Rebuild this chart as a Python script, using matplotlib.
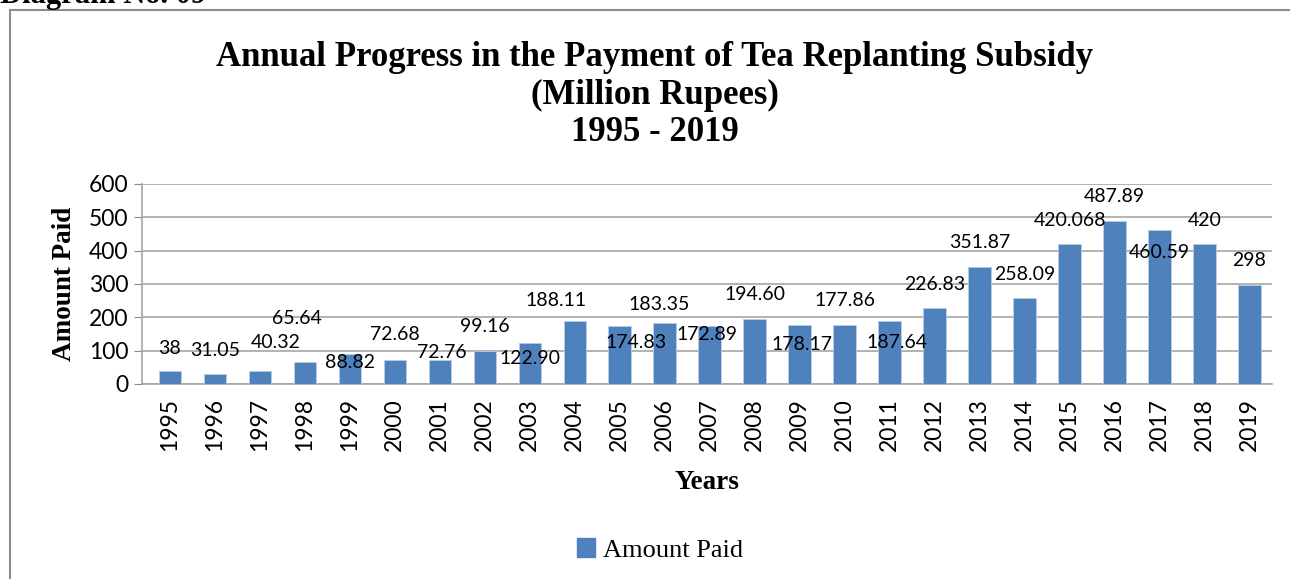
import matplotlib

matplotlib.use("Agg")
import matplotlib.pyplot as plt
from matplotlib.patches import Rectangle, Patch

# 年份與補助金額（百萬盧比）
YEARS = [str(y) for y in range(1995, 2020)]
AMOUNTS = [38, 31.05, 40.32, 65.64, 88.82, 72.68, 72.76, 99.16, 122.90, 188.11,
           174.83, 183.35, 172.89, 194.60, 178.17, 177.86, 187.64, 226.83, 351.87,
           258.09, 420.068, 487.89, 460.59, 420, 298]
LABELS = ["38", "31.05", "40.32", "65.64", "88.82", "72.68", "72.76", "99.16",
          "122.90", "188.11", "174.83", "183.35", "172.89", "194.60", "178.17",
          "177.86", "187.64", "226.83", "351.87", "258.09", "420.068", "487.89",
          "460.59", "420", "298"]
Y_TICKS = [0, 100, 200, 300, 400, 500, 600]

# 資料標籤的位置（原圖手動擺放）
LABEL_Y = [108, 102, 123, 198, 63, 147, 96, 171, 78, 252, 126, 237, 147, 270,
           117, 249, 126, 297, 423, 330, 492, 561, 393, 492, 369]
LABEL_DX = [0, 0, 0.36, -0.18, 0, 0, 0.05, 0, 0, -0.42, 0.36, -0.13, -0.07, 0,
            0.05, 0, 0.16, 0, 0, 0, 0, 0, 0, 0, 0]

BAR_COLOR = "#4F81BD"
SERIF = "Liberation Serif"
SANS = "Lato"

fig = plt.figure(figsize=(12.9, 5.79), dpi=100)
fig.patch.set_facecolor("white")

# 外框
fig.patches.append(Rectangle((10 / 1290, -0.05), 1.1, 1 - 10 / 579 + 0.05,
                             transform=fig.transFigure, fill=False,
                             edgecolor="#8C8C8C", linewidth=1.5))
fig.text(0.0, 1 - 3 / 579, "Diagram No. 09", fontsize=22, fontweight="bold",
         family=SERIF, va="baseline", ha="left")

ax = fig.add_axes([142 / 1290, 1 - 384 / 579, (1272 - 142) / 1290, 200 / 579])
x = list(range(len(YEARS)))
ax.bar(x, AMOUNTS, width=0.5, color=BAR_COLOR, edgecolor="#B9CDE5",
       linewidth=0.6, zorder=3)

for i, (lab, ly, dx) in enumerate(zip(LABELS, LABEL_Y, LABEL_DX)):
    ax.text(i + dx, ly, lab, ha="center", va="center", fontsize=14,
            family=SANS, color="black", zorder=4)

ax.set_ylim(0, 600)
ax.set_xlim(-0.62, len(YEARS) - 0.5)
ax.set_yticks(Y_TICKS)
ax.set_yticklabels([str(t) for t in Y_TICKS], fontsize=16.5, family=SANS)
ax.set_xticks(x)
ax.set_xticklabels(YEARS, rotation=90, fontsize=16.5, family=SANS)
ax.tick_params(axis="y", length=6, color="#8C8C8C", pad=4)
ax.tick_params(axis="x", length=0, pad=10)
ax.grid(axis="y", color="#A6A6A6", linewidth=1.2, zorder=0)
for s in ["top", "right"]:
    ax.spines[s].set_visible(False)
for s in ["left", "bottom"]:
    ax.spines[s].set_color("#A6A6A6")
    ax.spines[s].set_linewidth(1.2)

ax.set_ylabel("Amount Paid", fontsize=19.5, fontweight="bold", family=SERIF,
              labelpad=8)
ax.set_xlabel("Years", fontsize=19.5, fontweight="bold", family=SERIF, labelpad=14)

fig.text(655 / 1290, 1 - 95 / 579,
         "Annual Progress in the Payment of Tea Replanting Subsidy\n(Million Rupees)\n1995 - 2019",
         ha="center", va="center", fontsize=25, fontweight="bold", family=SERIF,
         linespacing=1.17)

leg = fig.legend(handles=[Patch(color=BAR_COLOR, label="Amount Paid")],
                 loc="center", bbox_to_anchor=(660 / 1290, 1 - 550 / 579),
                 frameon=False, prop={"family": SERIF, "size": 19},
                 handlelength=0.7, handleheight=0.7, handletextpad=0.3)

fig.savefig("out.png", dpi=100)
